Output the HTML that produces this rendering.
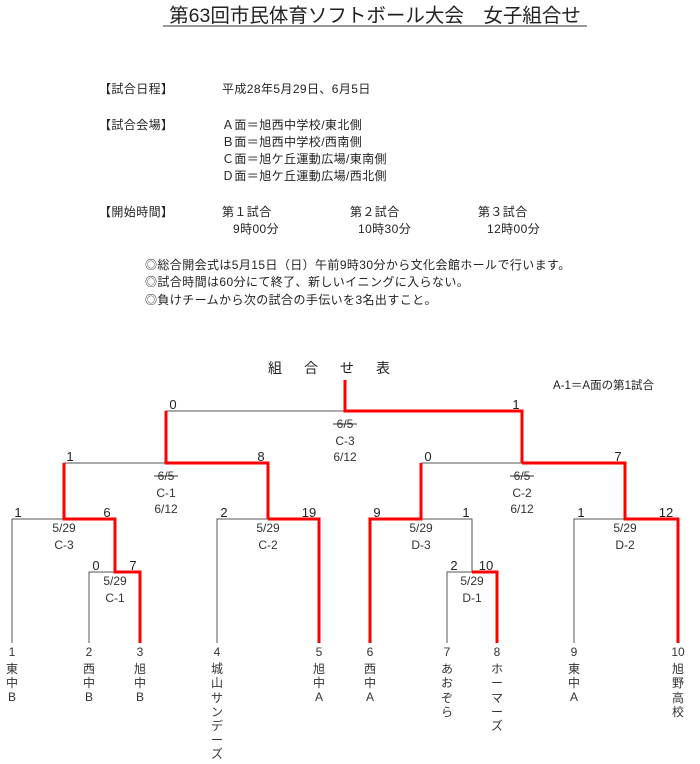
<!DOCTYPE html>
<html><head><meta charset="utf-8"><style>
html,body{margin:0;padding:0;background:#fff;}
svg{display:block;font-family:"Liberation Sans","Noto Sans CJK JP",sans-serif;}
</style></head><body>
<svg width="700" height="764" viewBox="0 0 700 764" xmlns="http://www.w3.org/2000/svg">
<g fill="#222">
<text x="375" y="22" font-size="19.5" text-anchor="middle">第63回市民体育ソフトボール大会　女子組合せ</text>
<line x1="163" y1="26" x2="587" y2="26" stroke="#333" stroke-width="1"/>
<g font-size="12" letter-spacing="0.4">
<text x="99" y="93">【試合日程】</text>
<text x="222" y="93">平成28年5月29日、6月5日</text>
<text x="99" y="129">【試合会場】</text>
<text x="222" y="129">Ａ面＝旭西中学校/東北側</text>
<text x="222" y="146">Ｂ面＝旭西中学校/西南側</text>
<text x="222" y="163">Ｃ面＝旭ケ丘運動広場/東南側</text>
<text x="222" y="180">Ｄ面＝旭ケ丘運動広場/西北側</text>
<text x="99" y="216">【開始時間】</text>
<text x="222" y="216">第１試合</text>
<text x="350" y="216">第２試合</text>
<text x="478" y="216">第３試合</text>
<text x="233" y="233">9時00分</text>
<text x="358" y="233">10時30分</text>
<text x="487" y="233">12時00分</text>
<text x="145" y="269">◎総合開会式は5月15日（日）午前9時30分から文化会館ホールで行います。</text>
<text x="145" y="286">◎試合時間は60分にて終了、新しいイニングに入らない。</text>
<text x="145" y="304">◎負けチームから次の試合の手伝いを3名出すこと。</text>
</g>
<text x="340" y="373" font-size="14" text-anchor="middle" letter-spacing="22">組合せ表</text>
<text x="553" y="389" font-size="11.5">A-1＝A面の第1試合</text>
</g>

<g fill="none" stroke="#555" stroke-width="1">
<path d="M166 463V411H345"/>
<path d="M64 519V463H166"/>
<path d="M421 463H522"/>
<path d="M12 643V519H64"/>
<path d="M89 643V572H115"/>
<path d="M217 643V519H268"/>
<path d="M421 519H472V572"/>
<path d="M447 643V572H472"/>
<path d="M574 643V519H625"/>
</g>
<g fill="none" stroke="#f00" stroke-width="3">
<path d="M345 380V411H522V463"/>
<path d="M166 411V463H268V519"/>
<path d="M64 463V519H115V572H140V643"/>
<path d="M268 519H319V643"/>
<path d="M522 463H625V519H678V643"/>
<path d="M421 463V519H370V643"/>
<path d="M472 572H497V643"/>
</g>

<g fill="#222" font-size="13" text-anchor="middle">
<text x="173" y="409">0</text><text x="516" y="409">1</text>
<text x="70" y="461">1</text><text x="261" y="461">8</text>
<text x="428" y="461">0</text><text x="618" y="461">7</text>
<text x="18" y="517">1</text><text x="107" y="517">6</text>
<text x="224" y="517">2</text><text x="309" y="517">19</text>
<text x="377" y="517">9</text><text x="466" y="517">1</text>
<text x="581" y="517">1</text><text x="666" y="517">12</text>
<text x="96" y="570">0</text><text x="133" y="570">7</text>
<text x="454" y="570">2</text><text x="486" y="570">10</text>
</g>
<g fill="#333" font-size="12" text-anchor="middle">
<text x="345" y="428">6/5</text><line x1="333" y1="424" x2="357" y2="424" stroke="#333"/>
<text x="345" y="445">C-3</text><text x="345" y="461">6/12</text>
<text x="166" y="480">6/5</text><line x1="154" y1="476" x2="178" y2="476" stroke="#333"/>
<text x="166" y="497">C-1</text><text x="166" y="513">6/12</text>
<text x="522" y="480">6/5</text><line x1="510" y1="476" x2="534" y2="476" stroke="#333"/>
<text x="522" y="497">C-2</text><text x="522" y="513">6/12</text>
<text x="64" y="532">5/29</text><text x="64" y="549">C-3</text>
<text x="268" y="532">5/29</text><text x="268" y="549">C-2</text>
<text x="421" y="532">5/29</text><text x="421" y="549">D-3</text>
<text x="625" y="532">5/29</text><text x="625" y="549">D-2</text>
<text x="115" y="585">5/29</text><text x="115" y="602">C-1</text>
<text x="472" y="585">5/29</text><text x="472" y="602">D-1</text>
</g>

<g fill="#333" font-size="12" text-anchor="middle">
<g transform="translate(12,0)"><text y="656">1</text><text y="673">東</text><text y="687">中</text><text y="701">B</text></g>
<g transform="translate(89,0)"><text y="656">2</text><text y="673">西</text><text y="687">中</text><text y="701">B</text></g>
<g transform="translate(140,0)"><text y="656">3</text><text y="673">旭</text><text y="687">中</text><text y="701">B</text></g>
<g transform="translate(217,0)"><text y="656">4</text><text y="673">城</text><text y="687">山</text><text y="702">サ</text><text y="716">ン</text><text y="730">デ</text><text y="744">ー</text><text y="758">ズ</text></g>
<g transform="translate(319,0)"><text y="656">5</text><text y="673">旭</text><text y="687">中</text><text y="701">A</text></g>
<g transform="translate(370,0)"><text y="656">6</text><text y="673">西</text><text y="687">中</text><text y="701">A</text></g>
<g transform="translate(447,0)"><text y="656">7</text><text y="673">あ</text><text y="687">お</text><text y="702">ぞ</text><text y="716">ら</text></g>
<g transform="translate(497,0)"><text y="656">8</text><text y="673">ホ</text><text y="687">ー</text><text y="702">マ</text><text y="716">ー</text><text y="730">ズ</text></g>
<g transform="translate(574,0)"><text y="656">9</text><text y="673">東</text><text y="687">中</text><text y="701">A</text></g>
<g transform="translate(678,0)"><text y="656">10</text><text y="673">旭</text><text y="687">野</text><text y="702">高</text><text y="716">校</text></g>
</g>
</svg>
</body></html>
